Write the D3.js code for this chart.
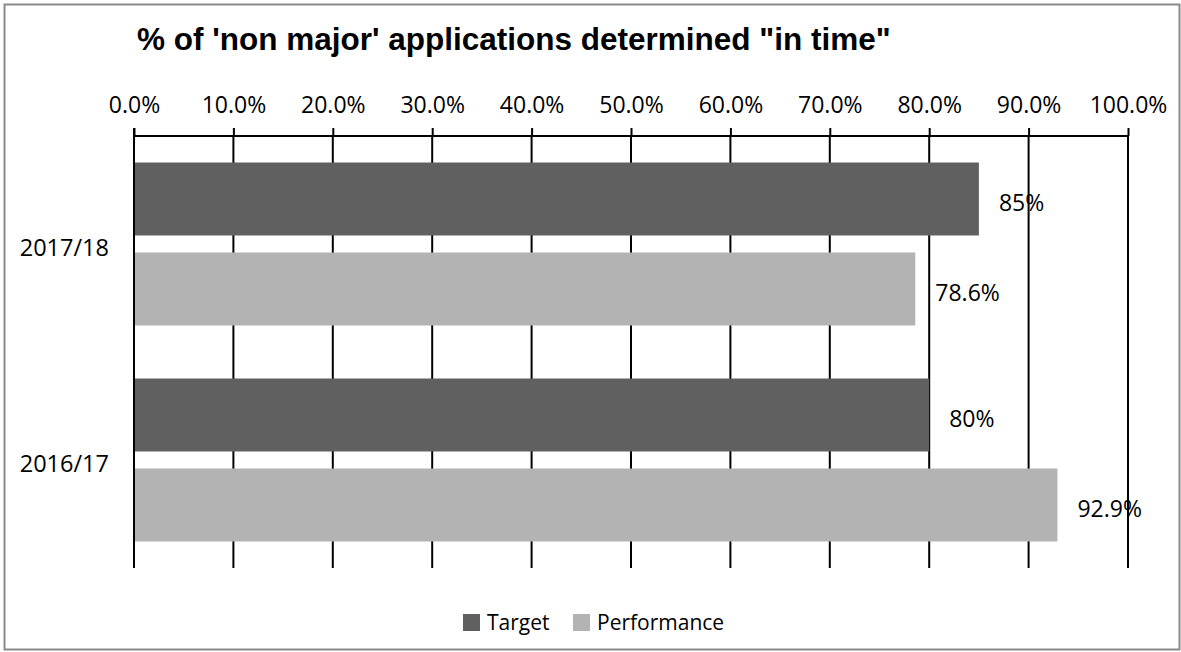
<!DOCTYPE html>
<html>
<head>
<meta charset="utf-8">
<script src="https://cdn.jsdelivr.net/npm/d3@7"></script>
<style>
  html, body { margin: 0; padding: 0; background: #fff; }
  svg { display: block; }
</style>
</head>
<body>
<svg id="chart" width="1181" height="652"></svg>
<script>
const categories = ["2017/18", "2016/17"];
const seriesNames = ["Target", "Performance"];
const targetValues = [0.85, 0.80];
const performanceValues = [0.786, 0.929];
const valueLabels = [["85%", "78.6%"], ["80%", "92.9%"]];
const tickValues = [0, 0.1, 0.2, 0.3, 0.4, 0.5, 0.6, 0.7, 0.8, 0.9, 1.0];
const titleText = "% of 'non major' applications determined \"in time\"";

const colors = { Target: "#606060", Performance: "#b3b3b3" };
const labelFont = "'Open Sans', 'Noto Sans', sans-serif";

const svg = d3.select("#chart");

// outer border
svg.append("rect")
  .attr("x", 4.5).attr("y", 4.5)
  .attr("width", 1175).attr("height", 645)
  .attr("fill", "#fff").attr("stroke", "#8a8a8a").attr("stroke-width", 2);

// title
svg.append("text")
  .attr("x", 137).attr("y", 50)
  .attr("font-family", "'Liberation Sans', Arial, sans-serif")
  .attr("font-weight", "bold")
  .attr("font-size", 31.5)
  .attr("fill", "#000")
  .text(titleText);

const x = d3.scaleLinear().domain([0, 1]).range([134, 1128]);
const y = d3.scaleBand().domain(categories).range([136, 568]);
const ySub = d3.scaleBand().domain(seriesNames)
  .range([26.5, 216 - 26.5]).paddingInner(17 / 90);

// gridlines
svg.append("g").selectAll("line")
  .data(tickValues.filter(d => d > 0))
  .join("line")
  .attr("x1", d => x(d)).attr("x2", d => x(d))
  .attr("y1", 136).attr("y2", 568)
  .attr("stroke", "#000").attr("stroke-width", 2);

// top axis
const axis = d3.axisTop(x)
  .tickValues(tickValues)
  .tickSize(8)
  .tickPadding(15)
  .tickFormat(d3.format(".1%"));
const gAxis = svg.append("g")
  .attr("transform", "translate(0,136)")
  .call(axis);
gAxis.select(".domain").attr("stroke", "#000").attr("stroke-width", 2)
  .attr("d", `M${x(0)},0H${x(1)}`);
gAxis.selectAll(".tick line").attr("stroke", "#000").attr("stroke-width", 2);
gAxis.selectAll(".tick text")
  .attr("font-family", labelFont)
  .attr("font-size", 23)
  .attr("fill", "#000");

// bars
const rows = categories.map((c, i) => ({
  category: c,
  values: [
    { series: "Target", value: targetValues[i], label: valueLabels[i][0] },
    { series: "Performance", value: performanceValues[i], label: valueLabels[i][1] }
  ]
}));

const groups = svg.append("g").selectAll("g")
  .data(rows)
  .join("g")
  .attr("transform", d => `translate(0,${y(d.category)})`);

groups.selectAll("rect")
  .data(d => d.values)
  .join("rect")
  .attr("x", x(0))
  .attr("y", d => ySub(d.series))
  .attr("width", d => x(d.value) - x(0))
  .attr("height", ySub.bandwidth())
  .attr("fill", d => colors[d.series]);

groups.selectAll("text.val")
  .data(d => d.values)
  .join("text")
  .attr("class", "val")
  .attr("x", d => x(d.value) + 20)
  .attr("y", d => ySub(d.series) + ySub.bandwidth() / 2 + 4)
  .attr("dy", "0.35em")
  .attr("font-family", labelFont)
  .attr("font-size", 23)
  .attr("fill", "#000")
  .text(d => d.label);

// left axis line
svg.append("line")
  .attr("x1", x(0)).attr("x2", x(0))
  .attr("y1", 128).attr("y2", 568)
  .attr("stroke", "#000").attr("stroke-width", 2);

// category labels
svg.append("g").selectAll("text")
  .data(categories)
  .join("text")
  .attr("x", 109)
  .attr("y", d => y(d) + y.bandwidth() / 2 + 4)
  .attr("dy", "0.35em")
  .attr("text-anchor", "end")
  .attr("font-family", labelFont)
  .attr("font-size", 23.5)
  .attr("fill", "#000")
  .text(d => d);

// legend
const legend = svg.append("g").attr("transform", "translate(463,614)");
const legendItems = [
  { name: "Target", dx: 0 },
  { name: "Performance", dx: 110 }
];
const li = legend.selectAll("g").data(legendItems).join("g")
  .attr("transform", d => `translate(${d.dx},0)`);
li.append("rect")
  .attr("width", 17).attr("height", 17)
  .attr("fill", d => colors[d.name]);
li.append("text")
  .attr("x", 24).attr("y", 9).attr("dy", "0.35em")
  .attr("font-family", labelFont)
  .attr("font-size", 21)
  .attr("fill", "#000")
  .text(d => d.name);
</script>
</body>
</html>
